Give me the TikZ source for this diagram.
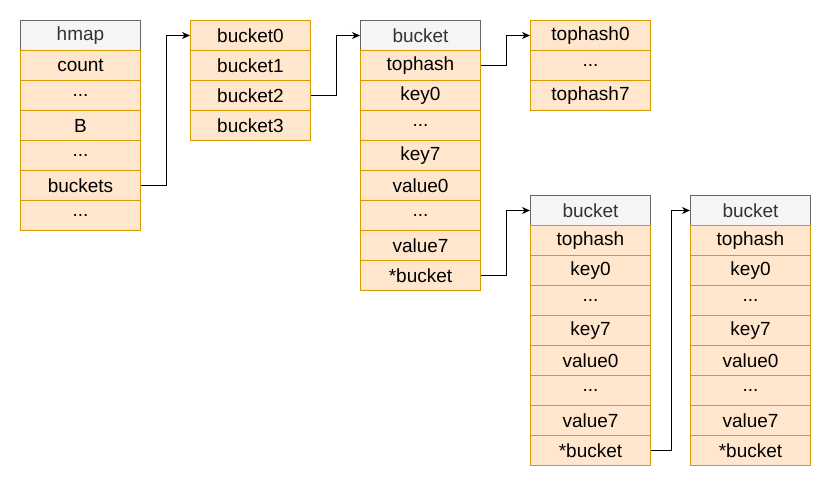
\documentclass[tikz,border=0pt]{standalone}
\usepackage{fontspec}
\setmainfont{Liberation Sans}
\usetikzlibrary{arrows.meta}
\definecolor{hdrfill}{HTML}{F5F5F5}
\definecolor{hdrline}{HTML}{666666}
\definecolor{hdrtext}{HTML}{333333}
\definecolor{cellfill}{HTML}{FFE6CC}
\definecolor{cellline}{HTML}{D79B00}
\newcommand{\ddd}{...}
\tikzset{
  base/.style={rectangle, minimum width=120pt, minimum height=30pt, inner sep=0pt, anchor=north west, line width=1pt, font=\fontsize{19}{22}\selectfont},
  cell/.style={base, fill=cellfill, draw=cellline, text=black},
  hdr/.style={base, fill=hdrfill, draw=hdrline, text=hdrtext},
  conn/.style={draw=black, line width=1pt, -{Stealth[length=8pt,width=7pt,inset=2.5pt]}}
}
\begin{document}
\begin{tikzpicture}[x=1pt,y=-1pt]
\useasboundingbox (0,0) rectangle (831,486);
% hmap
\node[hdr] (hm0) at (20,20) {hmap};
\node[cell] (hm1) at (20,50) {count};
\node[cell] (hm2) at (20,80) {...};
\node[cell] (hm3) at (20,110) {B};
\node[cell] (hm4) at (20,140) {...};
\node[cell] (hm5) at (20,170) {buckets};
\node[cell] (hm6) at (20,200) {...};
% bucket array
\node[cell] (ba1) at (190,20) {bucket0};
\node[cell] (ba2) at (190,50) {bucket1};
\node[cell] (ba3) at (190,80) {bucket2};
\node[cell] (ba4) at (190,110) {bucket3};
% first bucket
\node[hdr] (bk0) at (360,20) {bucket};
\node[cell] (bk1) at (360,50) {tophash};
\node[cell] (bk2) at (360,80) {key0};
\node[cell] (bk3) at (360,110) {...};
\node[cell] (bk4) at (360,140) {key7};
\node[cell] (bk5) at (360,170) {value0};
\node[cell] (bk6) at (360,200) {...};
\node[cell] (bk7) at (360,230) {value7};
\node[cell] (bk8) at (360,260) {*bucket};
% tophash array
\node[cell] (th1) at (530,20) {tophash0};
\node[cell] (th2) at (530,50) {...};
\node[cell] (th3) at (530,80) {tophash7};
% second bucket
\node[hdr] (bl0) at (530,195) {bucket};
\node[cell] (bl1) at (530,225) {tophash};
\node[cell] (bl2) at (530,255) {key0};
\node[cell] (bl3) at (530,285) {...};
\node[cell] (bl4) at (530,315) {key7};
\node[cell] (bl5) at (530,345) {value0};
\node[cell] (bl6) at (530,375) {...};
\node[cell] (bl7) at (530,405) {value7};
\node[cell] (bl8) at (530,435) {*bucket};
% third bucket
\node[hdr] (bm0) at (690,195) {bucket};
\node[cell] (bm1) at (690,225) {tophash};
\node[cell] (bm2) at (690,255) {key0};
\node[cell] (bm3) at (690,285) {...};
\node[cell] (bm4) at (690,315) {key7};
\node[cell] (bm5) at (690,345) {value0};
\node[cell] (bm6) at (690,375) {...};
\node[cell] (bm7) at (690,405) {value7};
\node[cell] (bm8) at (690,435) {*bucket};
% connectors
\draw[conn] (hm5.east) -- ++(25,0) |- (ba1.west);
\draw[conn] (ba3.east) -- ++(25,0) |- (bk0.west);
\draw[conn] (bk1.east) -- ++(25,0) |- (th1.west);
\draw[conn] (bk8.east) -- ++(25,0) |- (bl0.west);
\draw[conn] (bl8.east) -- ++(20,0) |- (bm0.west);
\end{tikzpicture}
\end{document}
